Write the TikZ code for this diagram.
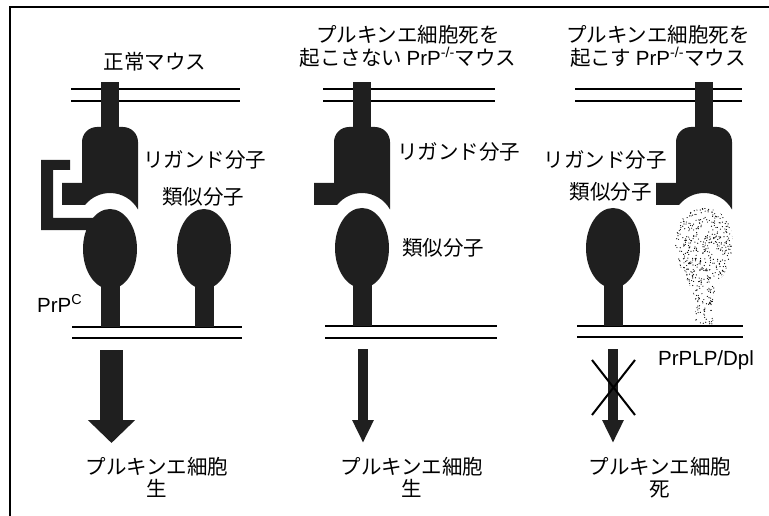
\documentclass[tikz,border=0pt]{standalone}
\usepackage{fontspec}
\setmainfont{Noto Sans CJK JP}
\newfontfamily\lat{Liberation Sans}
\usetikzlibrary{positioning}
\usetikzlibrary{arrows.meta}

\tikzset{
  lbl/.style={font=\fontsize{20.5}{22.5}\selectfont, inner sep=0pt, align=center},
  dark/.style={fill=black!88},
  memline/.style={line width=1.3pt},
  bigarrow/.style={draw=black!88, line width=23pt, -{Triangle[width=46pt,length=23pt]}},
  thinarrow/.style={draw=black!88, line width=10pt, -{Triangle[width=20pt,length=23pt]}},
  % ligand: stem top centre is the origin
  ligand/.pic={
    \fill[dark] (-9,0) rectangle (9,50);
    \fill[dark] (-28,101) -- (-28,60) arc[start angle=180,end angle=90,radius=15pt]
      -- (13,45) arc[start angle=90,end angle=0,radius=15pt]
      -- (28,127.5) arc[start angle=29,end angle=141,radius=32pt]
      -- (-48,123) -- (-48,101) -- cycle;
  },
  % receptor on the membrane: stem foot is the origin
  prp/.pic={
    \fill[dark] (-9.5,-80) rectangle (9.5,0);
    \fill[dark] (0,-78) ellipse [x radius=27pt, y radius=40pt];
  },
  % stippled PrPLP/Dpl
  dpl/.pic={
    \begin{scope}
      \path[clip] (-9,0) -- (-9,-28) .. controls (-14,-45) and (-29,-60) .. (-29,-85)
        .. controls (-29,-105) and (-16,-118) .. (0,-118)
        .. controls (16,-118) and (29,-105) .. (29,-85)
        .. controls (29,-60) and (14,-45) .. (9,-28) -- (9,0) -- cycle;
      \pgfmathsetseed{17}
      \foreach \k in {1,...,750}
        \fill ({-30+60*rnd},{-120+120*rnd}) circle (0.6pt);
    \end{scope}
  }
}

\begin{document}
\begin{tikzpicture}[x=1pt, y=-1pt]
 \useasboundingbox (0,0) rectangle (769,516);
 \draw[line width=1.2pt] (10,516) -- (10,7) -- (769,7);

 % membranes
 \draw[memline] (71,89) -- (240,89) (71,101) -- (240,101);
 \draw[memline] (72,327) -- (242,327) (72,338) -- (242,338);
 \draw[memline] (323,89) -- (495,89) (323,101) -- (495,101);
 \draw[memline] (325,326) -- (497,326) (325,338) -- (497,338);
 \draw[memline] (575,89) -- (742,89) (575,101) -- (742,101);
 \draw[memline] (577,326) -- (743,326) (577,337) -- (743,337);

 % normal mouse
 \pic at (110,82) {ligand};
 \pic at (110,327) {prp};
 \pic at (204,327) {prp};
 \fill[dark] (70,160) -- (41,160) -- (41,230) -- (95,230) -- (95,218)
   -- (53,218) -- (53,170) -- (70,170) -- cycle;

 % PrP-/- without death
 \pic at (362,82) {ligand};
 \pic at (362,326) {prp};

 % PrP-/- with death
 \pic at (704,82) {ligand};
 \pic at (613,326) {prp};
 \pic at (704,326) {dpl};

 % labels
 \node[lbl] (titleA) at (155,62) {正常マウス};
 \node[lbl] (titleB) at (408,46.5) {プルキンエ細胞死を\\起こさない {\lat PrP\textsuperscript{-/-}}マウス};
 \node[lbl] (titleC) at (658,46.5) {プルキンエ細胞死を\\起こす {\lat PrP\textsuperscript{-/-}}マウス};
 \node[lbl, anchor=west] (ligA) at (143,160) {リガンド分子};
 \node[lbl, anchor=west] (simA) at (162,197) {類似分子};
 \node[lbl, anchor=west] (ligB) at (397,152) {リガンド分子};
 \node[lbl, anchor=west] (simB) at (402,248) {類似分子};
 \node[lbl, anchor=east] (ligC) at (667,160) {リガンド分子};
 \node[lbl, anchor=east] (simC) at (652,192) {類似分子};
 \node[lbl, anchor=base west] (prpc) at (37,312) {\lat PrP\textsuperscript{C}};
 \node[lbl, anchor=west] (dpl) at (658,360) {\lat PrPLP/Dpl};
 \node[lbl] (cellA) at (157,477.5) {プルキンエ細胞\\生};
 \node[lbl] (cellB) at (412,477.5) {プルキンエ細胞\\生};
 \node[lbl] (cellC) at (660,477.5) {プルキンエ細胞\\死};

 % signals
 \coordinate (srcA) at (111.5,350);
 \coordinate (tipA) at (111.5,443);
 \coordinate (srcB) at (363,349);
 \coordinate (tipB) at (363,443);
 \coordinate (srcC) at (613,349);
 \coordinate (tipC) at (613,443);
 \draw[bigarrow] (srcA) -- (tipA);
 \draw[thinarrow] (srcB) -- (tipB);
 \draw[thinarrow] (srcC) -- (tipC);
 \draw[line width=2pt] (592,360) -- (635,415) (635,360) -- (592,415);
\end{tikzpicture}
\end{document}
